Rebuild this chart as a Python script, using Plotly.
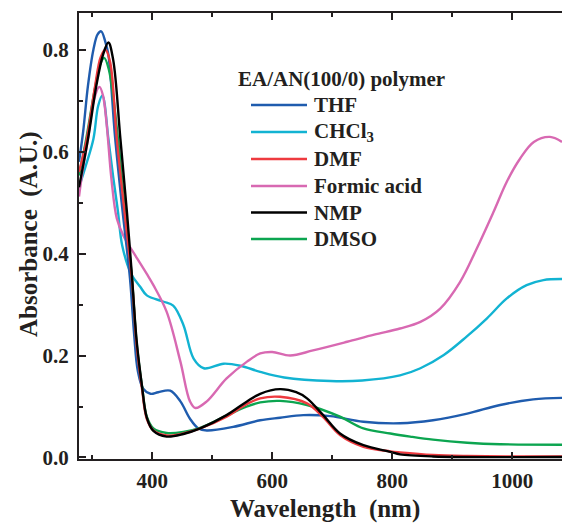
import plotly.graph_objects as go

# ---------------- data ----------------
thf_nm = [278, 285, 293, 302, 309, 315, 322, 327, 338, 350, 363, 370, 376, 385, 397, 410, 430,
          447, 463, 477, 491, 535, 580, 613, 652, 697, 752, 813, 868, 925, 980, 1035, 1083]
thf_abs = [0.58, 0.64, 0.73, 0.80, 0.83, 0.836, 0.815, 0.79, 0.63, 0.49, 0.351, 0.24, 0.17, 0.135,
           0.125, 0.128, 0.131, 0.11, 0.076, 0.057, 0.053, 0.06, 0.073, 0.078, 0.083, 0.081, 0.07,
           0.067, 0.073, 0.086, 0.103, 0.114, 0.117]

chcl3_nm = [278, 290, 302, 310, 317, 327, 335, 343, 350, 365, 380, 391, 418, 435, 452, 469, 486,
            519, 547, 580, 620, 697, 750, 813, 847, 886, 924, 958, 991, 1024, 1052, 1083]
chcl3_abs = [0.53, 0.575, 0.625, 0.69, 0.71, 0.625, 0.55, 0.482, 0.416, 0.36, 0.335, 0.318, 0.306,
             0.298, 0.26, 0.194, 0.175, 0.184, 0.18, 0.168, 0.157, 0.15, 0.151, 0.161, 0.175,
             0.201, 0.237, 0.273, 0.312, 0.338, 0.348, 0.35]

dmf_nm = [278, 291, 305, 314, 322, 330, 341, 354, 366, 374, 383, 391, 402, 424, 452, 480, 524,
          558, 580, 613, 658, 685, 713, 752, 797, 813, 868, 925, 1000, 1083]
dmf_abs = [0.56, 0.625, 0.73, 0.785, 0.80, 0.775, 0.625, 0.48, 0.351, 0.22, 0.135, 0.076, 0.053,
           0.043, 0.047, 0.057, 0.08, 0.105, 0.116, 0.119, 0.106, 0.079, 0.044, 0.021, 0.012, 0.01,
           0.005, 0.003, 0.002, 0.002]

formic_nm = [278, 285, 293, 302, 312, 318, 324, 332, 341, 352, 372, 391, 402, 424, 447, 463, 472,
             491, 524, 558, 580, 600, 630, 668, 725, 770, 813, 847, 880, 913, 941, 969, 991,
             1013, 1036, 1063, 1083]
formic_abs = [0.512, 0.57, 0.625, 0.697, 0.727, 0.71, 0.655, 0.547, 0.469, 0.435, 0.396, 0.36,
              0.338, 0.286, 0.188, 0.11, 0.097, 0.11, 0.155, 0.188, 0.204, 0.207, 0.2, 0.21, 0.227,
              0.241, 0.253, 0.266, 0.292, 0.344, 0.41, 0.482, 0.541, 0.586, 0.619, 0.629, 0.619]

nmp_nm = [278, 293, 307, 318, 327, 335, 347, 358, 366, 374, 383, 391, 402, 424, 452, 480, 524,
          558, 580, 613, 640, 658, 685, 713, 752, 797, 813, 868, 1083]
nmp_abs = [0.53, 0.625, 0.73, 0.79, 0.814, 0.78, 0.625, 0.48, 0.36, 0.23, 0.14, 0.078, 0.052,
           0.041, 0.046, 0.057, 0.083, 0.11, 0.125, 0.134, 0.128, 0.116, 0.083, 0.047, 0.024,
           0.011, 0.006, 0.002, 0.001]

dmso_nm = [278, 290, 304, 313, 320, 328, 343, 355, 366, 374, 383, 391, 402, 424, 452, 480, 524,
           558, 580, 613, 658, 713, 752, 797, 830, 868, 925, 980, 1083]
dmso_abs = [0.553, 0.625, 0.72, 0.77, 0.784, 0.76, 0.625, 0.48, 0.355, 0.225, 0.14, 0.08, 0.057,
            0.048, 0.05, 0.058, 0.082, 0.1, 0.108, 0.111, 0.103, 0.08, 0.057, 0.047, 0.041, 0.035,
            0.029, 0.026, 0.025]

series_names = ["THF", "CHCl<sub>3</sub>", "DMF", "Formic acid", "NMP", "DMSO"]
series_x = [thf_nm, chcl3_nm, dmf_nm, formic_nm, nmp_nm, dmso_nm]
series_y = [thf_abs, chcl3_abs, dmf_abs, formic_abs, nmp_abs, dmso_abs]
series_colors = ["#1f5cae", "#12b3d2", "#ee3a3f", "#d869b2", "#000000", "#0ca550"]
draw_order = [1, 3, 0, 5, 2, 4]

legend_title = "EA/AN(100/0) polymer"
x_title = "Wavelength  (nm)"
y_title = "Absorbance  (A.U.)"
x_tick_vals = [400, 600, 800, 1000]
y_tick_vals = [0.0, 0.2, 0.4, 0.6, 0.8]

FONT = "Liberation Serif"
INK = "#231f20"

fig = go.Figure()
for i in draw_order:
    fig.add_trace(go.Scatter(
        x=series_x[i], y=series_y[i], mode="lines", name=series_names[i],
        line=dict(color=series_colors[i], width=2.4, shape="spline", smoothing=1.0),
        showlegend=False,
    ))

# ----- plot-area geometry (pixels) -----
W, H = 562, 523
L, R, T, B = 79, 562, 13, 459
def px(xp):
    return (xp - L) / (R - L)
def py(yp):
    return (B - yp) / (B - T)

# ----- custom legend -----
fig.add_annotation(x=px(236), y=py(79), xref="paper", yref="paper", text=legend_title,
                   showarrow=False, xanchor="left", yanchor="middle",
                   font=dict(family=FONT, size=21, color=INK, weight="bold"))
row_y = [105, 132, 159, 186, 212.5, 239]
for k in range(6):
    fig.add_shape(type="line", xref="paper", yref="paper",
                  x0=px(251), x1=px(307), y0=py(row_y[k]), y1=py(row_y[k]),
                  line=dict(color=series_colors[k], width=2.6))
    fig.add_annotation(x=px(312), y=py(row_y[k]), xref="paper", yref="paper",
                       text=series_names[k], showarrow=False, xanchor="left", yanchor="middle",
                       font=dict(family=FONT, size=21, color=INK, weight="bold"))

# ----- axis titles -----
fig.add_annotation(x=px(325), y=py(509), xref="paper", yref="paper", text=x_title,
                   showarrow=False, xanchor="center", yanchor="middle",
                   font=dict(family=FONT, size=25, color=INK, weight="bold"))
fig.add_annotation(x=px(29), y=py(234), xref="paper", yref="paper", text=y_title,
                   showarrow=False, xanchor="center", yanchor="middle", textangle=-90,
                   font=dict(family=FONT, size=25, color=INK, weight="bold"))

fig.update_layout(
    width=W, height=H,
    margin=dict(l=L, r=W - R, t=T, b=H - B),
    paper_bgcolor="white", plot_bgcolor="white",
    font=dict(family=FONT, color=INK),
    showlegend=False,
)
fig.update_xaxes(
    range=[278, 1083], showgrid=False, zeroline=False, automargin=False,
    showline=True, linecolor=INK, linewidth=2, mirror="ticks",
    ticks="inside", ticklen=7, tickwidth=2, tickcolor=INK,
    tickvals=x_tick_vals, ticktext=[str(v) for v in x_tick_vals],
    minor=dict(ticks="inside", ticklen=4, tickwidth=1.5, tickcolor=INK, dtick=100, tick0=0),
    tickfont=dict(family=FONT, size=21, color=INK, weight="bold"),
    ticklabelstandoff=2,
)
fig.update_yaxes(
    range=[-0.003, 0.872], showgrid=False, zeroline=False, automargin=False,
    showline=True, linecolor=INK, linewidth=2, mirror=False,
    ticks="inside", ticklen=7, tickwidth=2, tickcolor=INK,
    tickvals=y_tick_vals, ticktext=[f"{v:.1f}" for v in y_tick_vals],
    minor=dict(ticks="inside", ticklen=4, tickwidth=1.5, tickcolor=INK, dtick=0.1, tick0=0),
    tickfont=dict(family=FONT, size=21, color=INK, weight="bold"),
    ticklabelstandoff=4,
)

# remove the browser's default page margin so the figure sits at the window origin
fig.write_html("out.html",
               config={"displayModeBar": False},
               post_script="document.body.style.margin='0px';"
                           "document.body.style.overflow='hidden';")
